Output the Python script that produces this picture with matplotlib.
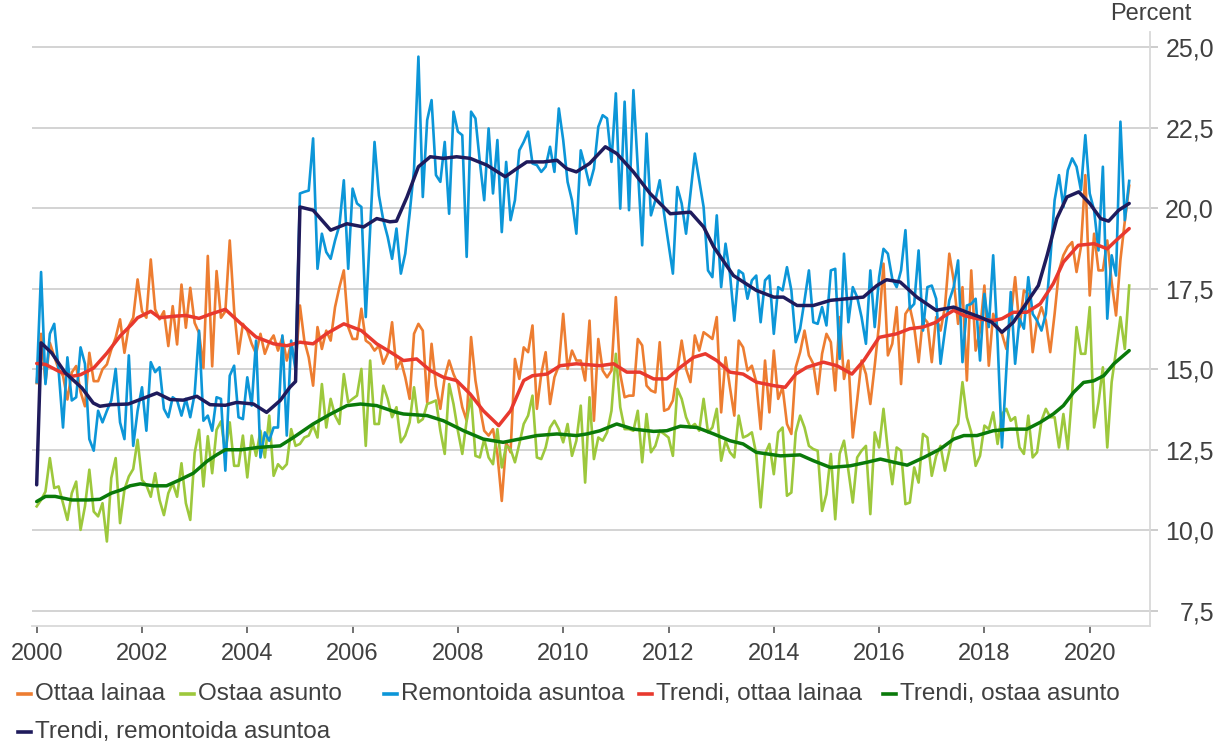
import numpy as np
import matplotlib
matplotlib.use("Agg")
import matplotlib.pyplot as plt
from matplotlib.lines import Line2D

plt.rcParams['font.family'] = ['Liberation Sans', 'DejaVu Sans']

# Monthly shares (%), January 2000 onwards
ottaa_lainaa = [
    14.57, 16.1, 14.6, 15.82, 15.4, 15.0, 14.8, 14.06, 14.9, 15.1, 14.3, 13.85,
    15.51, 14.63, 14.63, 15.0, 15.15, 15.61, 15.98, 16.55, 15.51, 16.34, 16.6, 17.79,
    16.80, 16.6, 18.41, 16.86, 16.55, 16.80, 15.72, 16.96, 15.77, 17.63, 16.29, 17.53,
    16.44, 16.13, 15.04, 18.52, 15.09, 18.05, 16.60, 16.8, 19.0, 16.83, 15.48, 16.41,
    16.20, 15.79, 15.48, 16.10, 15.48, 15.84, 16.05, 15.58, 16.0, 15.27, 15.79, 15.11,
    16.98, 15.89, 15.37, 14.49, 16.31, 15.63, 16.20, 15.89, 16.93, 17.55, 18.07, 16.31,
    15.94, 15.94, 16.88, 15.89, 15.79, 15.58, 15.73, 15.17, 15.48, 16.46, 15.01, 15.27,
    14.75, 14.08, 16.10, 16.41, 16.20, 13.97, 15.79, 14.49, 13.77, 14.75, 15.27, 14.85,
    14.54, 13.82, 13.40, 16.0, 14.65, 13.82, 13.09, 12.94, 13.14, 12.37, 10.91, 12.73,
    12.42, 15.32, 14.70, 15.68, 15.53, 16.36, 13.77, 14.85, 15.53, 13.92, 14.75, 15.11,
    16.72, 15.01, 15.58, 15.27, 15.27, 14.65, 16.51, 13.40, 15.94, 14.96, 14.75, 14.96,
    17.24, 14.85, 14.13, 14.18, 14.18, 15.94, 15.74, 14.49, 14.34, 14.28, 15.84, 13.71,
    13.77, 14.03, 14.96, 15.89, 15.01, 14.60, 16.05, 15.58, 16.15, 16.05, 15.94, 16.62,
    13.66, 15.37, 14.44, 13.56, 15.89, 15.68, 14.96, 15.11, 14.60, 13.14, 15.27, 13.66,
    15.58, 14.08, 14.44, 13.30, 12.99, 15.06, 15.53, 16.20, 15.43, 15.17, 14.23, 15.48,
    16.10, 15.84, 14.34, 16.62, 14.70, 15.27, 12.88, 14.03, 15.27, 14.85, 13.92, 15.11,
    16.41, 18.28, 15.43, 15.79, 16.93, 14.54, 16.72, 16.93, 16.31, 15.22, 16.62, 16.46,
    15.22, 16.62, 16.20, 16.93, 18.59, 17.76, 16.41, 17.55, 14.65, 18.07, 15.58, 16.20,
    17.60, 15.11, 16.72, 16.31, 16.10, 15.63, 16.62, 17.86, 16.31, 17.45, 17.34, 15.53,
    16.51, 16.93, 16.51, 15.53, 16.72, 18.07, 18.54, 18.80, 18.95, 18.02, 18.80, 21.03,
    17.29, 19.21, 18.07, 18.07, 19.0, 17.71, 16.67, 18.4, 19.6, 20.7,
]

ostaa_asunto = [
    10.74, 10.94, 11.20, 12.24, 11.31, 11.36, 10.84, 10.32, 11.15, 11.51, 10.01, 10.74,
    11.88, 10.58, 10.43, 10.84, 9.65, 11.62, 12.24, 10.22, 11.26, 11.67, 11.9, 12.81,
    11.56, 11.4, 11.04, 11.77, 10.94, 10.47, 11.15, 11.46, 11.04, 12.08, 10.84, 10.32,
    12.40, 13.12, 11.36, 12.92, 11.77, 13.12, 13.38, 12.42, 13.35, 12.0, 12.0, 12.94,
    11.64, 12.94, 12.31, 13.09, 12.26, 13.56, 11.69, 12.05, 11.90, 12.05, 13.14, 12.62,
    12.68, 12.88, 12.94, 13.25, 12.88, 14.54, 13.19, 14.08, 13.56, 13.30, 14.85, 13.97,
    14.08, 14.18, 15.01, 12.62, 15.27, 13.30, 13.30, 14.49, 14.08, 13.51, 13.82, 12.73,
    12.94, 13.35, 14.44, 13.35, 13.45, 13.92, 13.97, 14.03, 13.09, 12.37, 14.54, 13.92,
    13.09, 12.37, 13.40, 14.18, 12.31, 12.26, 12.83, 12.26, 12.05, 13.14, 11.95, 12.62,
    12.52, 12.11, 12.68, 13.30, 13.56, 14.18, 12.26, 12.21, 12.57, 13.19, 13.40, 13.14,
    12.73, 13.30, 12.31, 12.78, 13.87, 11.48, 14.13, 12.21, 12.88, 12.78, 13.04, 13.71,
    15.48, 13.82, 13.14, 13.14, 13.09, 13.71, 12.11, 13.61, 12.42, 12.62, 13.09, 12.99,
    12.88, 12.31, 14.39, 14.08, 13.51, 13.19, 13.30, 13.09, 14.08, 13.04, 13.19, 13.77,
    12.16, 12.78, 12.42, 12.26, 13.56, 12.88, 12.94, 13.04, 12.37, 10.71, 12.37, 12.68,
    11.74, 13.04, 13.19, 11.07, 11.17, 13.04, 13.56, 13.19, 12.62, 12.52, 12.47, 10.60,
    11.12, 12.37, 10.34, 12.37, 12.78, 11.85, 10.86, 12.26, 12.47, 12.62, 10.50, 13.04,
    12.57, 13.77, 12.47, 11.43, 12.57, 12.47, 10.81, 10.86, 11.95, 11.48, 12.99, 12.88,
    11.69, 12.31, 12.62, 11.85, 12.47, 13.09, 13.30, 14.60, 13.51, 13.04, 12.0, 12.31,
    13.25, 13.14, 13.66, 12.68, 13.61, 13.77, 13.40, 13.51, 12.57, 12.37, 13.56, 12.26,
    12.42, 13.40, 13.77, 13.51, 13.51, 12.57, 13.61, 12.52, 14.28, 16.31, 15.48, 15.48,
    16.93, 13.19, 13.97, 15.06, 12.57, 14.60, 15.58, 16.62, 15.63, 17.60,
]

remontoida_asuntoa = [
    14.6, 18.02, 14.54, 16.10, 16.41, 14.96, 13.19, 15.37, 14.03, 14.13, 15.68, 15.17,
    12.83, 12.47, 13.71, 13.35, 13.71, 14.03, 15.01, 13.35, 12.83, 15.43, 12.62, 13.71,
    14.44, 13.09, 15.22, 14.91, 15.06, 13.77, 13.51, 14.13, 14.03, 13.56, 14.08, 13.51,
    14.23, 16.20, 13.40, 13.56, 13.09, 14.13, 14.08, 11.85, 14.80, 15.11, 13.51, 13.45,
    14.75, 13.87, 15.89, 12.26, 13.04, 12.78, 13.19, 13.19, 16.05, 12.94, 15.89, 14.96,
    20.46, 20.51, 20.55, 22.17, 18.12, 19.21, 18.64, 18.43, 19.0, 19.47, 20.87, 18.12,
    20.61, 20.15, 20.04, 16.62, 19.32, 22.06, 20.40, 19.63, 19.11, 18.43, 19.37, 17.97,
    18.59, 19.83, 21.2, 24.71, 20.35, 22.74, 23.36, 21.03, 20.82, 22.06, 19.83, 23.0,
    22.38, 22.27, 18.49, 23.0, 22.79, 21.44, 20.25, 22.48, 20.46, 22.12, 19.26, 21.44,
    19.63, 20.25, 21.80, 22.06, 22.38, 21.39, 21.34, 21.13, 21.29, 21.91, 21.13, 23.10,
    22.12, 20.82, 20.25, 19.21, 21.80, 21.29, 20.72, 21.23, 22.53, 22.89, 22.79, 21.44,
    23.57, 19.99, 23.31, 19.94, 23.67, 21.29, 18.85, 22.32, 19.78, 20.25, 20.87, 19.83,
    18.90, 17.97, 20.66, 20.15, 19.21, 20.46, 21.70, 20.87, 20.04, 18.07, 17.86, 19.78,
    17.55, 18.90, 17.97, 16.51, 18.07, 17.97, 17.19, 17.76, 17.91, 16.46, 17.76, 17.91,
    16.10, 17.55, 17.45, 18.17, 17.45, 15.84, 16.26, 17.14, 18.07, 16.46, 16.41, 16.93,
    16.36, 18.07, 18.12, 15.32, 18.59, 16.46, 17.55, 17.24, 16.62, 15.79, 18.07, 16.31,
    17.86, 18.74, 18.59, 17.81, 17.55, 18.07, 19.32, 16.88, 17.03, 18.69, 16.20, 17.55,
    17.60, 17.19, 15.17, 16.20, 17.14, 17.55, 18.38, 15.22, 16.98, 17.03, 17.19, 15.27,
    17.34, 16.31, 18.54, 15.89, 12.57, 14.96, 17.40, 15.17, 16.57, 16.26, 17.86, 16.72,
    16.51, 16.20, 16.72, 18.38, 20.25, 21.03, 20.04, 21.18, 21.55, 21.29, 20.56, 22.27,
    20.46, 19.94, 18.69, 21.29, 16.57, 18.54, 17.91, 22.69, 19.63, 20.85,
]

# Trend curves: (months since Jan 2000, value)
trend_lainaa_m = [0, 2, 5, 8, 10, 13, 16, 19, 21.7, 23, 26, 28, 31.7, 34, 37, 40, 43,
                  46.6, 50, 54, 57, 60, 63, 66, 70, 74, 77.5, 81, 83.6, 86.6, 89.7,
                  92.7, 95.7, 98.8, 101.8, 105.3, 108, 111, 113, 116.3, 119.3, 123,
                  128.4, 131.5, 134.5, 137.5, 140.6, 143.6, 146.7, 149.7, 152.4, 155,
                  158, 161, 164, 168, 170.6, 173, 175.5, 179.3, 182.4, 185.8, 188.5,
                  192, 196, 199, 202, 205, 206.5, 209, 211.3, 214.3, 218, 220, 222.6,
                  225.7, 228.7, 231.7, 234, 237.4, 241, 244, 246, 249]
trend_lainaa_v = [15.18, 15.15, 14.94, 14.78, 14.83, 15.04, 15.5, 16.03, 16.4, 16.6,
                  16.8, 16.6, 16.65, 16.67, 16.58, 16.73, 16.86, 16.41, 16.0, 15.79,
                  15.73, 15.84, 15.79, 16.10, 16.41, 16.20, 15.79, 15.5, 15.27, 15.32,
                  14.96, 14.75, 14.65, 14.23, 13.71, 13.25, 13.71, 14.65, 14.80, 14.85,
                  15.11, 15.17, 15.11, 15.17, 14.91, 14.91, 14.70, 14.70, 15.06, 15.37,
                  15.48, 15.27, 14.91, 14.85, 14.60, 14.49, 14.44, 14.85, 15.06, 15.22,
                  15.11, 14.85, 15.27, 15.99, 16.10, 16.26, 16.31, 16.46, 16.62, 16.83,
                  16.67, 16.57, 16.51, 16.57, 16.77, 16.77, 17.03, 17.66, 18.33, 18.85,
                  18.90, 18.74, 19.0, 19.37]

trend_asunto_m = [0, 2, 4.2, 8, 11.8, 14.4, 17, 19.4, 21.3, 23.6, 26.6, 29.6, 32.7,
                  35.7, 38.8, 41, 43, 46.6, 50.4, 55.5, 58.5, 63, 67, 70.7, 73.8, 77.5,
                  82, 83.6, 89, 92.7, 97.3, 101.8, 106.3, 110, 114, 118.6, 123, 125.4,
                  128.4, 132.2, 136, 140.6, 143.6, 146.7, 150.5, 154.3, 158, 161, 164,
                  169.5, 174, 177, 180.9, 185.4, 189.2, 192.3, 195.4, 198.4, 202.2,
                  205.9, 209, 211.3, 214.3, 218, 221.9, 225.7, 228.7, 231.7, 234, 236.3,
                  238.6, 240.9, 243.2, 245.5, 249]
trend_asunto_v = [10.89, 11.05, 11.05, 10.94, 10.94, 10.96, 11.15, 11.26, 11.38, 11.44,
                  11.38, 11.38, 11.57, 11.77, 12.14, 12.34, 12.5, 12.5, 12.57, 12.62,
                  12.88, 13.30, 13.61, 13.87, 13.92, 13.87, 13.66, 13.61, 13.56, 13.40,
                  13.09, 12.83, 12.73, 12.83, 12.94, 12.99, 12.94, 12.99, 13.09, 13.30,
                  13.14, 13.07, 13.09, 13.23, 13.19, 12.99, 12.78, 12.68, 12.42, 12.31,
                  12.34, 12.16, 11.95, 12.0, 12.11, 12.21, 12.11, 12.02, 12.26, 12.52,
                  12.83, 12.94, 12.94, 13.09, 13.14, 13.14, 13.35, 13.61, 13.87, 14.28,
                  14.59, 14.64, 14.80, 15.17, 15.58]

trend_remontti_m = [0, 1, 3.4, 6.5, 10.3, 12.9, 14.4, 17, 20.9, 23.6, 27.4, 30.4, 33.4,
                    36.5, 39.5, 43, 45.6, 49.4, 52.4, 55.5, 57.7, 59, 60, 63, 67, 70.7,
                    74.5, 77.5, 80.5, 82, 84.4, 87, 89.7, 92.7, 95.7, 98.8, 102.6, 106.8,
                    109.4, 111.7, 115.5, 118.6, 120.8, 123, 126, 129.6, 132.2, 136,
                    139.8, 144.4, 149, 152, 154.3, 158.8, 164, 168, 170.2, 173.3, 177,
                    180.9, 184.6, 188.4, 191.5, 193.7, 196.8, 200.6, 205, 209, 212, 215,
                    217.7, 220, 222.6, 225.7, 228.3, 230.3, 232.5, 234.8, 237.5, 240,
                    242.5, 244.3, 246.6, 249]
trend_remontti_v = [11.41, 15.82, 15.51, 14.89, 14.42, 13.95, 13.85, 13.90, 13.92, 14.06,
                    14.26, 14.06, 14.04, 14.16, 13.90, 13.88, 13.97, 13.92, 13.66, 14.03,
                    14.44, 14.62, 20.04, 19.94, 19.32, 19.52, 19.42, 19.68, 19.58, 19.60,
                    20.35, 21.29, 21.60, 21.55, 21.60, 21.55, 21.34, 20.98, 21.23, 21.44,
                    21.44, 21.49, 21.23, 21.13, 21.39, 21.91, 21.70, 21.13, 20.46, 19.83,
                    19.88, 19.42, 18.80, 17.91, 17.45, 17.24, 17.24, 16.98, 16.98, 17.14,
                    17.19, 17.24, 17.60, 17.78, 17.71, 17.24, 16.83, 16.93, 16.77, 16.62,
                    16.46, 16.15, 16.46, 17.08, 17.60, 18.54, 19.68, 20.35, 20.51, 20.15,
                    19.68, 19.60, 19.94, 20.15]

labels = ["Ottaa lainaa", "Ostaa asunto", "Remontoida asuntoa",
          "Trendi, ottaa lainaa", "Trendi, ostaa asunto", "Trendi, remontoida asuntoa"]
colors = ["#ED7D31", "#9DC83C", "#0C96D8", "#E8392E", "#0A7A0A", "#1F1B5C"]

x_ticks = list(range(2000, 2021, 2))
y_ticks = [7.5, 10.0, 12.5, 15.0, 17.5, 20.0, 22.5, 25.0]

TEXT = "#404040"
W, H = 1216, 742
fig = plt.figure(figsize=(W / 100, H / 100), dpi=100)
ax = fig.add_axes([32 / W, 1 - 626 / H, 1118 / W, 594 / H])


def to_year(months):
    return 2000 + np.asarray(months, dtype=float) / 12.0


monthly = [ottaa_lainaa, ostaa_asunto, remontoida_asuntoa]
for vals, c in zip(monthly, colors[:3]):
    ax.plot(to_year(np.arange(len(vals))), vals, color=c, lw=1.9,
            solid_joinstyle="round", zorder=3)

trends = [(trend_lainaa_m, trend_lainaa_v), (trend_asunto_m, trend_asunto_v),
          (trend_remontti_m, trend_remontti_v)]
for (m, v), c in zip(trends, colors[3:]):
    ax.plot(to_year(m), v, color=c, lw=2.5, solid_joinstyle="round",
            solid_capstyle="round", zorder=4)

ax.set_xlim(1999.911, 2021.145)
ax.set_ylim(7.025, 25.475)

ax.set_xticks(x_ticks)
ax.set_xticklabels([str(t) for t in x_ticks])
ax.yaxis.tick_right()
ax.set_yticks(y_ticks)
ax.set_yticklabels([f"{t:.1f}".replace(".", ",") for t in y_ticks])
for lab in ax.get_yticklabels():
    lab.set_horizontalalignment("right")

ax.tick_params(axis="x", direction="out", length=5, width=1.2, color="#595959",
               pad=7, labelsize=17, labelcolor=TEXT)
ax.tick_params(axis="y", direction="out", length=6, width=1.1, color="#bfbfbf",
               pad=40, labelsize=18, labelcolor=TEXT)

ax.grid(axis="y", color="#d0d0d0", lw=1.3)
ax.set_axisbelow(True)
for side in ("left", "top"):
    ax.spines[side].set_visible(False)
for side in ("right", "bottom"):
    ax.spines[side].set_color("#d9d9d9")
    ax.spines[side].set_linewidth(1.3)

fig.text(1192 / W, 1 - 14 / H, "Percent", ha="right", va="center",
         fontsize=17, color=TEXT)

# Legend laid out as two rows below the axis
legend_pos = [(18, 694), (181, 694), (384, 694), (639, 694), (883, 694), (18, 732)]
for (px, py), c, lab in zip(legend_pos, colors, labels):
    fy = 1 - py / H
    fig.add_artist(Line2D([px / W, (px + 13) / W], [fy, fy], color=c, lw=2.6))
    fig.text((px + 17) / W, fy, lab, ha="left", va="center", fontsize=17.5, color=TEXT)

fig.savefig("out.png", dpi=100)
